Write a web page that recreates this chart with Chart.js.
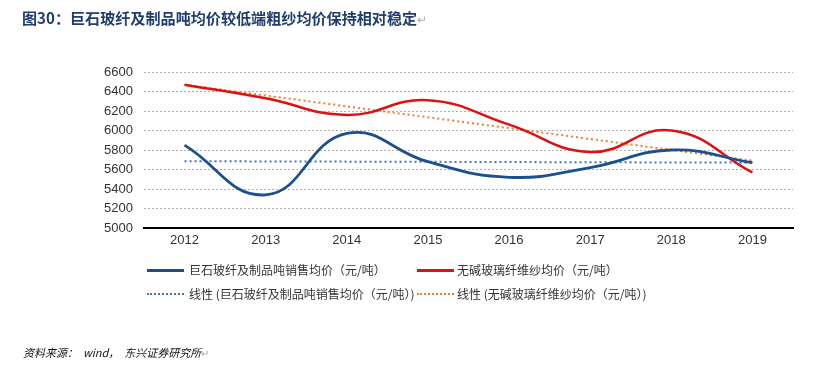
<!DOCTYPE html>
<html><head><meta charset="utf-8">
<script src="https://cdn.jsdelivr.net/npm/chart.js@4/dist/chart.umd.min.js"></script>
<style>
html,body{margin:0;padding:0;background:#fff;width:816px;height:375px;overflow:hidden;}
#wrap{position:relative;width:816px;height:375px;font-family:"Liberation Sans","Noto Sans CJK SC",sans-serif;}
#c{position:absolute;left:0;top:0;}
#title{position:absolute;left:22px;top:6px;font-family:"Noto Sans CJK SC",sans-serif;font-weight:bold;font-size:15.1px;color:#1F3D6E;white-space:nowrap;letter-spacing:0px;}
.ret{color:#aaa;font-weight:normal;font-size:12px;}
.lg{position:absolute;font-family:"Noto Sans CJK SC",sans-serif;font-size:12px;color:#333;white-space:nowrap;line-height:16px;}
.sw{position:absolute;width:37px;height:0;}
#src{position:absolute;left:23px;top:344px;font-family:"Noto Sans CJK SC",sans-serif;font-style:italic;font-size:11px;color:#111;white-space:nowrap;}
</style></head>
<body><div id="wrap">
<canvas id="c" width="816" height="375"></canvas>
<div id="title">图30：巨石玻纤及制品吨均价较低端粗纱均价保持相对稳定<span class="ret">↵</span></div>
<div id="legend"></div>
<div id="src">资料来源： &nbsp;wind， &nbsp;东兴证券研究所<span class="ret" style="font-style:normal;font-size:10px">↵</span></div>
</div>
<script>
const categories = ['2012','2013','2014','2015','2016','2017','2018','2019'];
const jushiPrice = [5850, 5340, 5970, 5680, 5520, 5620, 5800, 5670];
const rovingPrice = [6470, 6330, 6160, 6310, 6060, 5780, 6000, 5570];
const jushiTrend = [5685, null, null, null, null, null, null, 5670];
const rovingTrend = [6470, null, null, null, null, null, null, 5690];
const seriesNames = ['巨石玻纤及制品吨销售均价（元/吨）','无碱玻璃纤维纱均价（元/吨）','线性 (巨石玻纤及制品吨销售均价（元/吨）)','线性 (无碱玻璃纤维纱均价（元/吨）)'];
const yTicks = [5000,5200,5400,5600,5800,6000,6200,6400,6600];

const colors = ['#1B4F8F','#E01010','#4472C4','#ED7D31'];

// HTML legend
const lg = document.getElementById('legend');
const legendPos = [
  {sx:147, tx:189, y:270, style:'solid', w:3},
  {sx:417, tx:457, y:270, style:'solid', w:3},
  {sx:147, tx:189, y:294, style:'dotted', w:2},
  {sx:417, tx:457, y:294, style:'dotted', w:2}
];
seriesNames.forEach((n,i)=>{
  const p = legendPos[i];
  const s = document.createElement('div');
  s.className='sw';
  s.style.left=p.sx+'px';
  s.style.top=(p.y - p.w/2)+'px';
  s.style.borderTop=p.w+'px '+p.style+' '+colors[i];
  lg.appendChild(s);
  const t = document.createElement('div');
  t.className='lg';
  t.style.left=p.tx+'px';
  t.style.top=(p.y-8)+'px';
  t.textContent=n;
  lg.appendChild(t);
});

new Chart(document.getElementById('c'), {
  type:'line',
  data:{
    labels:categories,
    datasets:[
      {label:seriesNames[0], data:jushiPrice, borderColor:colors[0], borderWidth:2.8, tension:0.45, pointRadius:0, fill:false},
      {label:seriesNames[1], data:rovingPrice, borderColor:colors[1], borderWidth:2.5, tension:0.45, pointRadius:0, fill:false},
      {label:seriesNames[2], data:jushiTrend, borderColor:colors[2], borderWidth:2, borderDash:[2,3], spanGaps:true, tension:0, pointRadius:0, fill:false},
      {label:seriesNames[3], data:rovingTrend, borderColor:colors[3], borderWidth:2, borderDash:[2,3], spanGaps:true, tension:0, pointRadius:0, fill:false}
    ]
  },
  options:{
    responsive:false, animation:false, devicePixelRatio:1,
    layout:{padding:{left:0, right:23, top:72, bottom:127}},
    plugins:{legend:{display:false}, tooltip:{enabled:false}},
    scales:{
      x:{
        offset:true,
        grid:{display:false, drawTicks:false},
        border:{display:true, color:'#000', width:2},
        ticks:{color:'#333', font:{family:'Liberation Sans', size:13}, padding:5, maxRotation:0},
        afterFit:(s)=>{s.height=20;}
      },
      y:{
        min:5000, max:6600,
        afterBuildTicks:(s)=>{s.ticks = yTicks.map(v=>({value:v}));},
        grid:{color:(ctx)=> ctx.tick && ctx.tick.value===5000 ? 'rgba(0,0,0,0)' : '#B0B0B0', lineWidth:1, drawTicks:false},
        border:{display:false, dash:[2,2]},
        ticks:{color:'#333', font:{family:'Liberation Sans', size:13}, padding:11, callback:(v)=>String(v)},
        afterFit:(s)=>{s.width=144;}
      }
    }
  }
});
</script>
</body></html>
